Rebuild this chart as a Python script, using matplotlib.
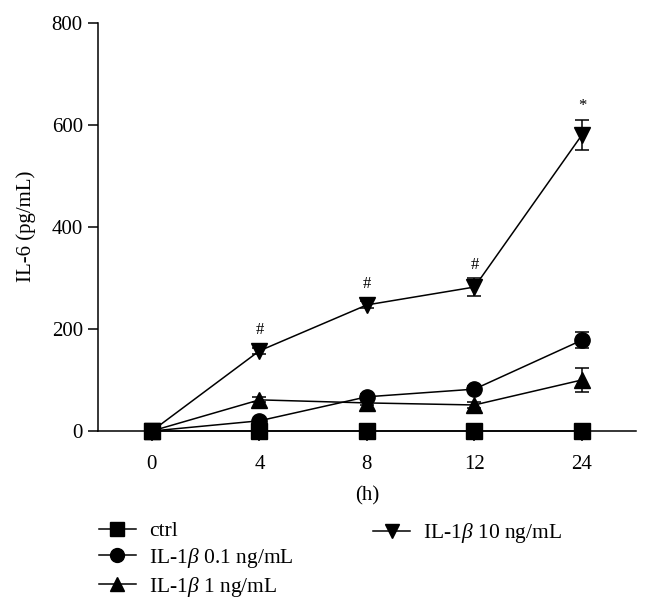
import matplotlib
matplotlib.use("Agg")
import matplotlib.pyplot as plt
from matplotlib.lines import Line2D

plt.rcParams['font.family'] = ['Liberation Serif', 'DejaVu Serif']
plt.rcParams['mathtext.fontset'] = 'custom'
plt.rcParams['mathtext.it'] = 'Liberation Serif:italic'
plt.rcParams['mathtext.rm'] = 'Liberation Serif'

timepoints = ["0", "4", "8", "12", "24"]
ctrl = [0, 0, 0, 0, 0]
ctrl_err = [0, 0, 0, 0, 0]
il1b_01 = [0, 20, 67, 82, 178]
il1b_01_err = [0, 4, 5, 6, 16]
il1b_1 = [0, 61, 55, 51, 100]
il1b_1_err = [0, 5, 5, 5, 23]
il1b_10 = [0, 157, 247, 282, 580]
il1b_10_err = [0, 6, 7, 17, 30]
sig_10 = ["", "#", "#", "#", "*"]

labels = ["ctrl", r"IL-1$\it{\beta}$ 0.1 ng/mL", r"IL-1$\it{\beta}$ 1 ng/mL", r"IL-1$\it{\beta}$ 10 ng/mL"]
series = [(ctrl, ctrl_err, 's'), (il1b_01, il1b_01_err, 'o'), (il1b_1, il1b_1_err, '^'), (il1b_10, il1b_10_err, 'v')]

fig = plt.figure(figsize=(6.5, 6.11), dpi=100)
ax = fig.add_axes([0.151, 0.2946, 0.827, 0.6684])
x = list(range(len(timepoints)))

handles = []
for (vals, errs, m), lab in zip(series, labels):
    ax.errorbar(x, vals, yerr=errs, fmt='-', marker=m, color='black', ecolor='black',
                markersize=11, linewidth=1.1, elinewidth=1.1, capsize=5, capthick=1.1,
                clip_on=False, zorder=3)
    handles.append(Line2D([], [], color='black', marker=m, markersize=10, linewidth=1.1))

for xi, v, e, s in zip(x, il1b_10, il1b_10_err, sig_10):
    if s:
        ax.annotate(s, (xi, v + max(e, 14)), xytext=(0, 4), textcoords='offset points',
                    ha='center', va='bottom', fontsize=12)

ax.set_xlim(-0.5, 4.5)
ax.set_ylim(0, 800)
ax.set_xticks(x)
ax.set_xticklabels(timepoints)
ax.set_yticks([0, 200, 400, 600, 800])
ax.spines['top'].set_visible(False)
ax.spines['right'].set_visible(False)
for sp in ['left', 'bottom']:
    ax.spines[sp].set_linewidth(1.1)
ax.tick_params(direction='out', length=7, width=1.1, labelsize=15)
ax.tick_params(axis='y', pad=4)
ax.tick_params(axis='x', pad=10)
ax.set_xlabel("(h)", fontsize=15, labelpad=9)
ax.set_ylabel("IL-6 (pg/mL)", fontsize=15, labelpad=11)

legkw = dict(loc='upper left', frameon=False, fontsize=15.5, handlelength=1.72,
             handletextpad=0.6, labelspacing=0.22, borderaxespad=0, borderpad=0)
leg1 = fig.legend(handles[:3], labels[:3], bbox_to_anchor=(0.152, 0.147), **legkw)
leg2 = fig.legend(handles[3:], labels[3:], bbox_to_anchor=(0.574, 0.147), **legkw)

fig.savefig("out.png", dpi=100)
